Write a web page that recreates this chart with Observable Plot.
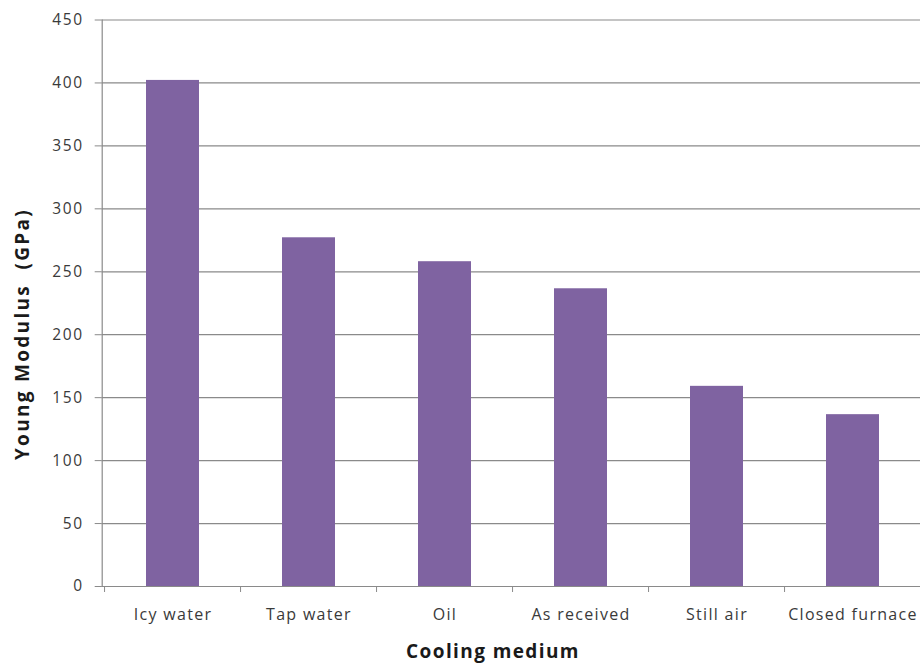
<!DOCTYPE html>
<html>
<head>
<meta charset="utf-8">
<script src="https://cdn.jsdelivr.net/npm/d3@7"></script>
<script src="https://cdn.jsdelivr.net/npm/@observablehq/plot@0.6"></script>
<style>
  html, body { margin: 0; padding: 0; background: #fff; overflow: hidden; }
  #chart { position: relative; width: 920px; height: 664px; }
  #chart svg { position: absolute; left: 0; top: 0; }
  g[aria-label="y-axis tick label"] { letter-spacing: 1.6px; }
  g[aria-label="x-axis tick label"] { letter-spacing: 1.3px; }
</style>
</head>
<body>
<div id="chart"></div>
<script>
const categories = ["Icy water", "Tap water", "Oil", "As received", "Still air", "Closed furnace"];
const modulus = [402, 277, 258, 236.5, 159, 136.5];
const yTicks = [0, 50, 100, 150, 200, 250, 300, 350, 400, 450];
const xTitle = "Cooling medium";
const yTitle = "Young Modulus  (GPa)";

const data = categories.map((c, i) => ({cat: c, value: modulus[i]}));

const W = 920, H = 664;
const mLeft = 101.7, mTop = 19.5, mBottom = 78;
const xEnd = 923;
const step = (xEnd - mLeft) / categories.length;
const gray = "#8a8a8a";
const textColor = "#3a3a3a";

const chart = Plot.plot({
  width: W,
  height: H,
  marginLeft: mLeft,
  marginRight: 0,
  marginTop: mTop,
  marginBottom: mBottom,
  style: {fontFamily: "'Open Sans', sans-serif", background: "#fff", overflow: "visible"},
  x: {domain: categories, range: [mLeft, xEnd], paddingInner: 0.61, paddingOuter: 0.305, label: null},
  y: {domain: [0, 450], ticks: yTicks, label: null},
  marks: [
    Plot.gridY(yTicks, {stroke: gray, strokeOpacity: 1, strokeWidth: 1.2}),
    Plot.barY(data, {x: "cat", y: "value", fill: "#7f63a1"}),
    Plot.ruleY([0], {stroke: gray, strokeWidth: 1.2}),
    Plot.frame({anchor: "left", stroke: gray, strokeWidth: 1.2}),
    Plot.axisY(yTicks, {tickSize: 7, tickPadding: 11.5, stroke: gray, fill: textColor, fontSize: 15.5, label: null}),
    Plot.axisX(categories, {tickSize: 6, stroke: gray, dx: -step / 2, text: null, label: null}),
    Plot.axisX(categories, {tickSize: 0, tickPadding: 22, fill: textColor, fontSize: 16, label: null})
  ]
});

const svg = d3.select(chart);
svg.append("text")
  .attr("x", 493).attr("y", 658)
  .attr("text-anchor", "middle")
  .attr("font-family", "'Open Sans', sans-serif")
  .attr("font-weight", "bold")
  .attr("font-size", 19)
  .attr("letter-spacing", "1.4px")
  .attr("fill", "#1a1a1a")
  .text(xTitle);
svg.append("text")
  .attr("transform", "translate(29,334) rotate(-90)")
  .attr("text-anchor", "middle")
  .attr("font-family", "'Open Sans', sans-serif")
  .attr("font-weight", "bold")
  .attr("font-size", 19)
  .attr("letter-spacing", "2.3px")
  .attr("fill", "#1a1a1a")
  .text(yTitle);

document.getElementById("chart").appendChild(chart);
</script>
</body>
</html>
